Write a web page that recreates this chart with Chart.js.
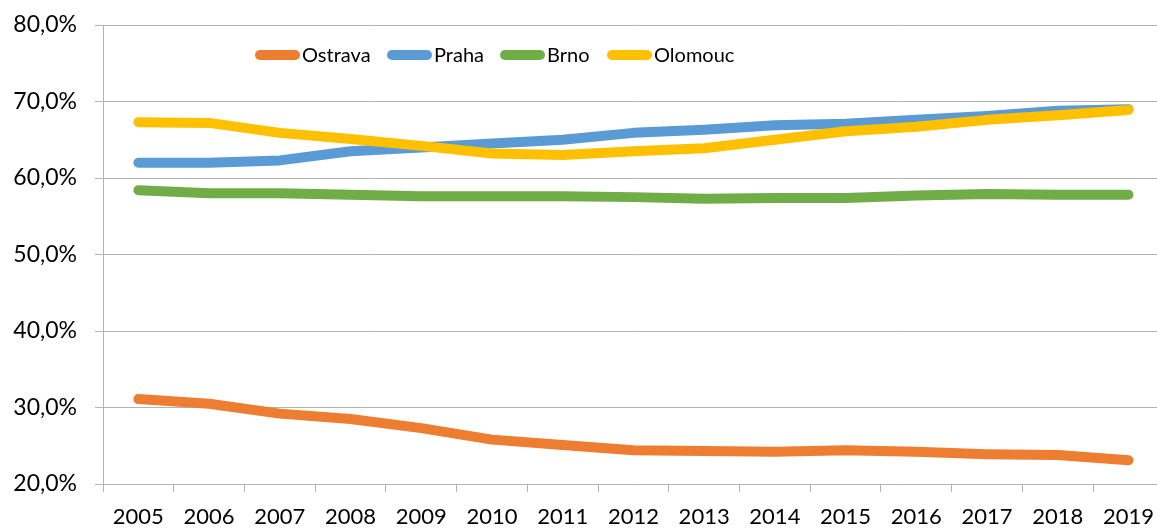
<!DOCTYPE html>
<html>
<head>
<meta charset="utf-8">
<script src="https://cdn.jsdelivr.net/npm/chart.js@4.4.1/dist/chart.umd.min.js"></script>
<style>
  html, body { margin: 0; padding: 0; background: #fff; overflow: hidden; }
  #wrap { width: 1166px; height: 529px; }
</style>
</head>
<body>
<div id="wrap"><canvas id="chart" width="1166" height="529"></canvas></div>
<script>
// ===== data =====
const years = ["2005", "2006", "2007", "2008", "2009", "2010", "2011", "2012", "2013", "2014", "2015", "2016", "2017", "2018", "2019"];
const ostrava = [31.1, 30.5, 29.2, 28.5, 27.3, 25.8, 25.1, 24.4, 24.3, 24.2, 24.4, 24.2, 23.9, 23.8, 23.1];
const praha   = [62.0, 62.0, 62.3, 63.5, 64.0, 64.5, 65.0, 65.9, 66.3, 66.9, 67.1, 67.6, 68.1, 68.8, 69.0];
const brno    = [58.4, 58.0, 58.0, 57.8, 57.6, 57.6, 57.6, 57.5, 57.3, 57.4, 57.4, 57.7, 57.9, 57.8, 57.8];
const olomouc = [67.3, 67.2, 65.9, 65.1, 64.2, 63.2, 63.0, 63.5, 63.9, 65.0, 66.1, 66.7, 67.6, 68.2, 68.9];
const yTicks = [20, 30, 40, 50, 60, 70, 80];

const FONT = "Lato, 'Open Sans', sans-serif";
const gridColor = "#b3b3b3";

function series(label, data, color, order) {
  return {
    label: label,
    data: data,
    borderColor: color,
    backgroundColor: color,
    borderWidth: 10,
    borderCapStyle: "round",
    borderJoinStyle: "round",
    pointRadius: 0,
    tension: 0,
    order: order
  };
}

// legend drawn inside the plot, like the original
const legendX = [255, 387, 500, 607];
const insideLegend = {
  id: "insideLegend",
  afterDraw(chart) {
    const ctx = chart.ctx;
    const y = 55;
    const lineLen = 45;
    ctx.save();
    ctx.font = "20px " + FONT;
    ctx.textBaseline = "middle";
    chart.data.datasets.forEach((ds, i) => {
      const x = legendX[i];
      ctx.strokeStyle = ds.borderColor;
      ctx.lineWidth = 10;
      ctx.lineCap = "round";
      ctx.beginPath();
      ctx.moveTo(x + 5, y);
      ctx.lineTo(x + lineLen - 5, y);
      ctx.stroke();
      ctx.fillStyle = "#000";
      ctx.fillText(ds.label, x + lineLen + 2, y + 1);
    });
    ctx.restore();
  }
};

new Chart(document.getElementById("chart").getContext("2d"), {
  type: "line",
  data: {
    labels: years,
    datasets: [
      series("Ostrava", ostrava, "#ED7D31", 4),
      series("Praha", praha, "#5B9BD5", 3),
      series("Brno", brno, "#70AD47", 2),
      series("Olomouc", olomouc, "#FFC000", 1)
    ]
  },
  options: {
    responsive: false,
    animation: false,
    layout: { autoPadding: false, padding: { top: 25, right: 0, left: 0, bottom: 0 } },
    plugins: {
      legend: { display: false },
      tooltip: { enabled: false }
    },
    scales: {
      x: {
        offset: true,
        grid: { offset: true, drawOnChartArea: false, color: gridColor, tickLength: 8 },
        border: { color: gridColor },
        ticks: { color: "#000", font: { family: FONT, size: 22 }, padding: 12, maxRotation: 0, autoSkip: false },
        afterFit(scale) { scale.height = 45; }
      },
      y: {
        min: 20,
        max: 80,
        afterBuildTicks(scale) { scale.ticks = yTicks.map(v => ({ value: v })); },
        grid: { color: gridColor, tickLength: 8 },
        border: { color: gridColor },
        ticks: {
          color: "#000",
          font: { family: FONT, size: 23 },
          padding: 18,
          callback: v => v.toFixed(1).replace(".", ",") + "%"
        },
        afterFit(scale) {
          scale.width = 103;
          scale.paddingTop = 0;
          scale.paddingBottom = 0;
        }
      }
    }
  },
  plugins: [insideLegend]
});
</script>
</body>
</html>
